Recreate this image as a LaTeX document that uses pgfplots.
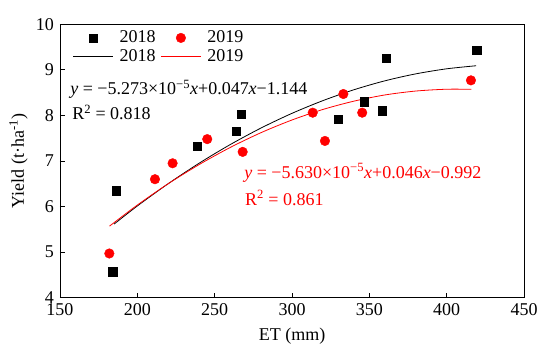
\documentclass[border=0pt]{standalone}
\usepackage{fontspec}
\setmainfont{Liberation Serif}
\usepackage{pgfplots}
\pgfplotsset{compat=1.18}
\begin{document}
\fontsize{18bp}{21bp}\selectfont
\begin{tikzpicture}
\begin{axis}[
  scale only axis, width=464bp, height=273.4bp,
  xmin=150, xmax=450, ymin=4, ymax=10,
  xtick={150,200,...,450}, ytick={4,5,...,10},
  tick align=inside, xtick pos=bottom, ytick pos=left,
  major tick length=5bp,
  axis line style={line width=0.8bp}, tick style={line width=0.8bp, black},
  /pgf/number format/assume math mode=true,
  tick label style={font=\fontsize{18bp}{21bp}\selectfont},
  label style={font=\fontsize{18bp}{21bp}\selectfont},
  xlabel={ET (mm)}, ylabel={Yield (t·ha\textsuperscript{-1})},
  ylabel shift=-4bp,
  legend image code/.code={\draw[mark repeat=2,mark phase=2,#1] plot coordinates {(0bp,0bp) (20bp,0bp) (40bp,0bp)};},
  legend columns=2,
  legend style={draw=none, fill=none, at={(axis description cs:0.027,0.985)}, anchor=north west,
    font=\fontsize{18bp}{20bp}\selectfont, inner sep=0pt,
    /tikz/every even column/.append style={column sep=3bp},
    /tikz/every odd column/.append style={column sep=4bp}},
  legend cell align=left,
]
\addplot[only marks, mark=square*, mark size=4.2bp, black] coordinates {
(186.2,6.35) (184.2,4.57) (238.8,7.33) (263.8,7.66) (267.0,8.03)
(330.0,7.92) (346.8,8.30) (358.2,8.10) (360.8,9.25) (419.4,9.43)};
\addlegendentry{2018}
\addplot[only marks, mark=*, mark size=4.8bp, red, mark options={draw=red, fill=red}] coordinates {
(181.9,4.97) (211.4,6.60) (222.8,6.95) (245.2,7.48) (268.1,7.20)
(313.4,8.06) (321.3,7.44) (333.2,8.47) (345.4,8.06) (415.7,8.77)};
\addlegendentry{2019}
\addplot[black, line width=0.8bp, smooth, no marks] coordinates {
(185,5.616) (200,6.013) (220,6.503) (240,6.952) (260,7.359) (280,7.724)
(300,8.046) (320,8.325) (340,8.563) (360,8.759) (380,8.912) (400,9.023) (419,9.090)};
\addlegendentry{2018}
\addplot[red, line width=0.8bp, smooth, no marks] coordinates {
(182,5.570) (200,6.033) (220,6.502) (240,6.922) (260,7.296) (280,7.622)
(300,7.900) (320,8.131) (340,8.313) (360,8.449) (380,8.535) (400,8.575) (416,8.573)};
\addlegendentry{2019}
\node[anchor=west, inner sep=0pt] at (axis cs:156.5,8.58) {\textit{y} = −5.273×10\textsuperscript{−5}\textit{x}+0.047\textit{x}−1.144};
\node[anchor=west, inner sep=0pt] at (axis cs:157.8,8.06) {R\textsuperscript{2} = 0.818};
\node[anchor=west, inner sep=0pt, text=red] at (axis cs:269.0,6.74) {\textit{y} = −5.630×10\textsuperscript{−5}\textit{x}+0.046\textit{x}−0.992};
\node[anchor=west, inner sep=0pt, text=red] at (axis cs:269.6,6.19) {R\textsuperscript{2} = 0.861};
\end{axis}
\pgfresetboundingbox
\path ([xshift=-60bp,yshift=-62.3bp]current axis.south west) rectangle ([xshift=26bp,yshift=24.3bp]current axis.north east);
\end{tikzpicture}
\end{document}
